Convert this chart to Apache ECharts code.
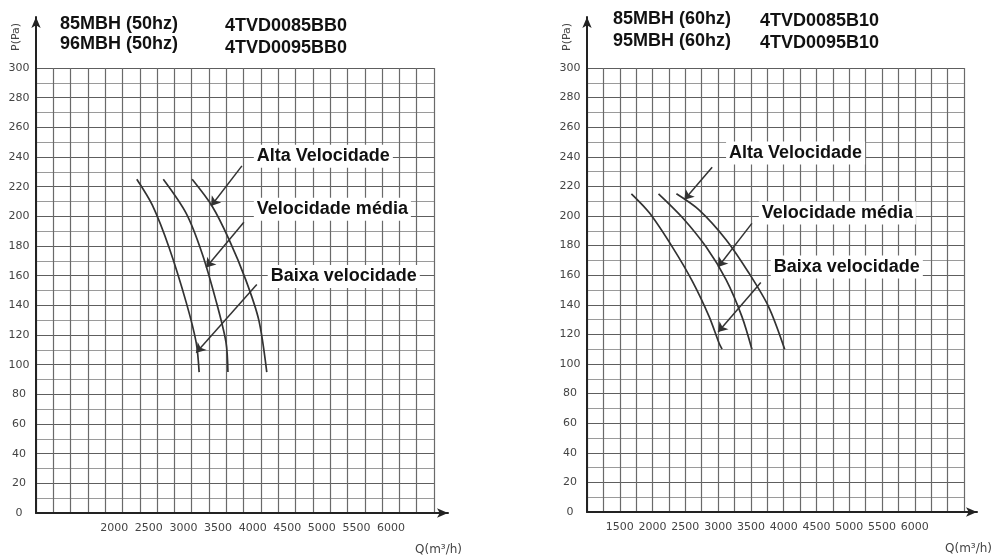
<!DOCTYPE html>
<html>
<head>
<meta charset="utf-8">
<script src="https://cdn.jsdelivr.net/npm/echarts@6/dist/echarts.min.js"></script>
<style>
  html, body { margin: 0; padding: 0; background: #fff; }
  #chart { width: 995px; height: 557px; }
</style>
</head>
<body>
<div id="chart"></div>
<script>
// x tick labels shown on each chart (Q, m3/h)
const ticks50 = [2000, 2500, 3000, 3500, 4000, 4500, 5000, 5500, 6000];
const ticks60 = [1500, 2000, 2500, 3000, 3500, 4000, 4500, 5000, 5500, 6000];

// 50hz curves [Q, P]
const baixa50 = [[2456, 225], [2681, 207.5], [2926, 178.5], [3170, 142], [3314, 115], [3357, 95]];
const media50 = [[2839, 225], [3170, 202], [3400, 175], [3601, 143], [3745, 115], [3773, 95]];
const alta50 = [[3256, 225], [3543, 207], [3788, 184.5], [4032, 157], [4219, 130], [4334, 95]];

// 60hz curves [Q, P]
const baixa60 = [[1677, 215], [1954, 202], [2303, 179], [2606, 156], [2863, 132], [3015, 114], [3060, 110]];
const media60 = [[2091, 215], [2454, 199], [2818, 179], [3121, 157], [3363, 132], [3515, 110]];
const alta60 = [[2364, 215], [2712, 204], [3121, 184], [3469, 161.5], [3772, 138.5], [4015, 110]];

// callouts: arrow [from, to] and label anchor
const arrows50 = [[[3975, 234], [3529, 207]], [[4003, 196], [3457, 165.5]], [[4190, 154], [3314, 108]]];
const notes50 = [["Alta Velocidade", 4147, 240.5], ["Velocidade média", 4147, 204.7], ["Baixa velocidade", 4348, 159.5]];
const arrows60 = [[[2909, 233], [2485, 211]], [[3515, 195], [3000, 165.5]], [[3651, 155], [3000, 121.6]]];
const notes60 = [["Alta Velocidade", 3121, 242.6], ["Velocidade média", 3621, 202], ["Baixa velocidade", 3803, 165.5]];

const chart = echarts.init(document.getElementById("chart"));

const boldText = { fontFamily: "Liberation Sans", fontWeight: "bold", fontSize: 18, color: "#111", lineHeight: 21 };

function mainX(idx, labels, shift) {
  return {
    type: "value", gridIndex: idx, min: 1000, max: 6750, interval: 250,
    axisLine: { show: false }, axisTick: { show: false },
    axisLabel: {
      margin: 10, fontSize: 11, fontFamily: "DejaVu Sans", color: "#444",
      padding: [0, 0, 0, shift],
      formatter: (v) => (labels.includes(v) ? String(v) : ""),
    },
    splitLine: { lineStyle: { color: "#6a6a6a", width: 1.2 } },
    name: "Q(m³/h)", nameLocation: "end", nameGap: 28,
    nameTextStyle: { fontSize: 12, fontFamily: "DejaVu Sans", color: "#444", align: "right", verticalAlign: "top", padding: [31, 0, 0, 0] },
  };
}

function mainY(idx) {
  return {
    type: "value", gridIndex: idx, min: 0, max: 300, interval: 20,
    axisLine: { show: false }, axisTick: { show: false },
    axisLabel: { margin: 17, align: "center", fontSize: 11, fontFamily: "DejaVu Sans", color: "#444" },
    splitLine: { lineStyle: { color: "#5e5e5e", width: 1.2 } },
    minorTick: { show: false, splitNumber: 2 },
    minorSplitLine: { show: true, lineStyle: { color: "#9a9a9a", width: 1 } },
    name: "P(Pa)", nameLocation: "end", nameGap: 17, nameRotate: 90,
    nameTextStyle: { fontSize: 11, fontFamily: "DejaVu Sans", color: "#444", align: "left", verticalAlign: "bottom", padding: [0, 0, 14, 0] },
  };
}

function frameAxis(idx) {
  return {
    type: "value", gridIndex: idx, min: 0, max: 1,
    axisLine: { show: true, symbol: ["none", "arrow"], symbolSize: [7, 11], lineStyle: { color: "#222", width: 2 } },
    axisTick: { show: false }, axisLabel: { show: false }, splitLine: { show: false },
  };
}

function curve(data, xi) {
  return {
    type: "line", xAxisIndex: xi, yAxisIndex: xi, data: data,
    smooth: 0.3,
    showSymbol: false, silent: true,
    lineStyle: { color: "#333", width: 1.7 },
  };
}

function callouts(arrows, notes, xi) {
  return {
    type: "scatter", xAxisIndex: xi, yAxisIndex: xi, data: [], silent: true,
    markLine: {
      silent: true, symbol: ["none", "arrow"], symbolSize: 9,
      label: { show: false },
      lineStyle: { type: "solid", color: "#333", width: 1.5 },
      data: arrows.map((a) => [{ coord: a[0] }, { coord: a[1] }]),
    },
    markPoint: {
      silent: true, symbol: "circle", symbolSize: 0,
      label: Object.assign({ show: true, position: "right", distance: 0, formatter: "{b}", backgroundColor: "#fff", padding: [1, 3] }, boldText),
      data: notes.map((n) => ({ name: n[0], coord: [n[1], n[2]] })),
    },
  };
}

const option = {
  backgroundColor: "#fff",
  animation: false,
  title: [
    { text: "85MBH (50hz)\n96MBH (50hz)", left: 55, top: 9, textStyle: Object.assign({}, boldText, { lineHeight: 20 }) },
    { text: "4TVD0085BB0\n4TVD0095BB0", left: 220, top: 10, textStyle: Object.assign({}, boldText, { lineHeight: 22 }) },
    { text: "85MBH (60hz)\n95MBH (60hz)", left: 608, top: 3, textStyle: Object.assign({}, boldText, { lineHeight: 22 }) },
    { text: "4TVD0085B10\n4TVD0095B10", left: 755, top: 5, textStyle: Object.assign({}, boldText, { lineHeight: 22 }) },
  ],
  grid: [
    { left: 36, top: 68, width: 398, height: 445 },
    { left: 587, top: 68, width: 379, height: 444 },
    { left: 36, top: 17, width: 412, height: 496 },
    { left: 587, top: 17, width: 390, height: 495 },
  ],
  xAxis: [mainX(0, ticks50, 18), mainX(1, ticks60, 0), frameAxis(2), frameAxis(3)],
  yAxis: [mainY(0), mainY(1), frameAxis(2), frameAxis(3)],
  series: [
    curve(baixa50, 0), curve(media50, 0), curve(alta50, 0),
    curve(baixa60, 1), curve(media60, 1), curve(alta60, 1),
    callouts(arrows50, notes50, 0), callouts(arrows60, notes60, 1),
  ],
};

chart.setOption(option);
window.addEventListener("resize", () => chart.resize());
</script>
</body>
</html>
